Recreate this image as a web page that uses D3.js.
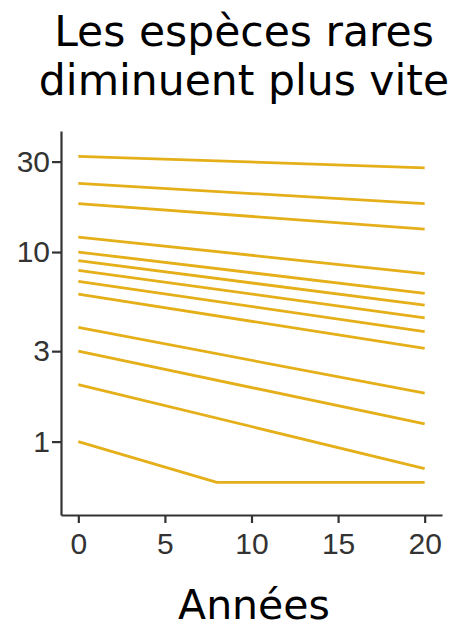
<!DOCTYPE html>
<html lang="fr">
<head>
<meta charset="utf-8">
<script src="https://cdn.jsdelivr.net/npm/d3@7"></script>
<style>
  html, body { margin: 0; padding: 0; background: #fff; }
  #chart svg { display: block; }
</style>
</head>
<body>
<div id="chart"></div>
<script>
const TITLE_LINES = ["Les espèces rares", "diminuent plus vite"];
const X_LABEL = "Années";

const years = [0, 20];
const startValues = [32, 23, 18, 12, 10, 9, 8, 7, 6, 4, 3, 2, 1];
const endValues = [27.8, 18, 13.2, 7.7, 6.05, 5.25, 4.5, 3.8, 3.1, 1.8, 1.24, 0.72, 0.61];

// the rarest species hits the floor after 8 years
const rarestYears = [0, 8, 20];
const rarestValues = [1, 0.61, 0.61];

const xTicks = [0, 5, 10, 15, 20];
const yTicks = [1, 3, 10, 30];

const LINE_COLOR = "#E5AF1A";
const AXIS_COLOR = "#333333";

const series = startValues.map((s, i) => {
  if (i === startValues.length - 1) {
    return rarestYears.map((yr, j) => ({ year: yr, value: rarestValues[j] }));
  }
  return years.map((yr, j) => ({ year: yr, value: j === 0 ? s : endValues[i] }));
});

renderChart(series);

function renderChart(data) {
  const totalWidth = 457;
  const totalHeight = 628;

  const svg = d3.select("#chart")
    .append("svg")
    .attr("width", totalWidth)
    .attr("height", totalHeight);

  const xScale = d3.scaleLinear()
    .domain([-1, 21])
    .range([61, 442]);

  const yScale = d3.scaleLog()
    .domain([0.41, 43.5])
    .range([515, 131]);

  // title, two lines
  svg.append("text")
    .attr("x", 244)
    .attr("y", 46)
    .attr("text-anchor", "middle")
    .attr("font-family", "'DejaVu Sans'")
    .attr("font-size", "42.5px")
    .attr("fill", "#000")
    .selectAll("tspan")
    .data(TITLE_LINES)
    .enter()
    .append("tspan")
    .attr("x", 244)
    .attr("dy", (d, i) => i === 0 ? 0 : 49)
    .text(d => d);

  const line = d3.line()
    .x(d => xScale(d.year))
    .y(d => yScale(d.value));

  svg.selectAll(".species")
    .data(data)
    .enter()
    .append("path")
    .attr("class", "species")
    .attr("d", line)
    .attr("fill", "none")
    .attr("stroke", LINE_COLOR)
    .attr("stroke-width", 2.8)
    .attr("stroke-linejoin", "round");

  const yAxis = svg.append("g")
    .attr("transform", `translate(${xScale.range()[0]},0)`)
    .call(d3.axisLeft(yScale)
      .tickValues(yTicks)
      .tickFormat(d3.format("d"))
      .tickSize(9)
      .tickPadding(2)
      .tickSizeOuter(0));

  const xAxis = svg.append("g")
    .attr("transform", `translate(0,${yScale.range()[0]})`)
    .call(d3.axisBottom(xScale)
      .tickValues(xTicks)
      .tickSize(8)
      .tickPadding(10)
      .tickSizeOuter(0));

  [xAxis, yAxis].forEach(ax => {
    ax.attr("font-family", "'Liberation Sans', Arial, sans-serif");
    ax.select(".domain")
      .attr("stroke", AXIS_COLOR)
      .attr("stroke-width", 2.2);
    ax.selectAll(".tick line")
      .attr("stroke", AXIS_COLOR)
      .attr("stroke-width", 2.2);
    ax.selectAll(".tick text")
      .attr("fill", AXIS_COLOR)
      .attr("font-family", "'Liberation Sans', Arial, sans-serif")
      .attr("font-size", "30px");
  });

  svg.append("text")
    .attr("x", 254)
    .attr("y", 619)
    .attr("text-anchor", "middle")
    .attr("font-family", "'DejaVu Sans'")
    .attr("font-size", "41px")
    .attr("fill", "#000")
    .text(X_LABEL);
}
</script>
</body>
</html>
